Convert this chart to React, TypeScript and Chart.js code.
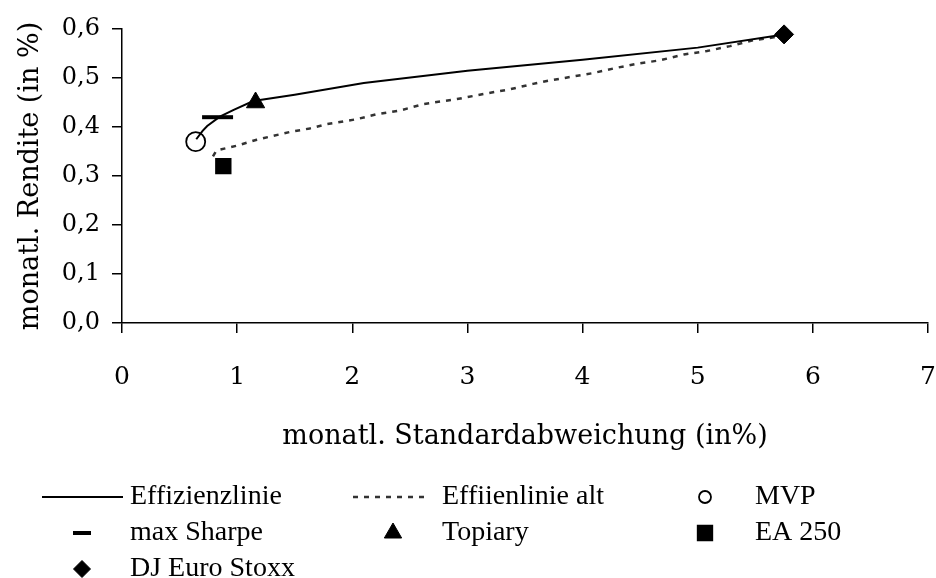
import React, { useEffect, useRef } from "react";
import { Chart, registerables } from "chart.js";
import { drawPoint } from "chart.js/helpers";

Chart.register(...registerables);

// ---- data ----
const effizienzX = [0.645, 0.7, 0.74, 0.85, 0.97, 1.14, 1.5, 2.1, 3.0, 4.0, 5.0, 5.75];
const effizienzY = [0.375, 0.392, 0.402, 0.421, 0.435, 0.453, 0.466, 0.49, 0.515, 0.537, 0.562, 0.589];

const altX = [0.79, 0.82, 1.0, 1.17, 1.46, 1.63, 1.78, 2.04, 2.21, 2.42, 2.62, 2.91, 3.2, 3.37, 3.57, 3.69, 3.89, 4.09, 4.3, 4.47, 4.67, 4.88, 5.08, 5.28, 5.48, 5.66, 5.75];
const altY = [0.34, 0.352, 0.362, 0.374, 0.39, 0.397, 0.406, 0.416, 0.426, 0.434, 0.447, 0.457, 0.47, 0.477, 0.488, 0.494, 0.502, 0.51, 0.521, 0.529, 0.536, 0.548, 0.555, 0.565, 0.577, 0.583, 0.589];

const portfolioLabels = ["MVP", "max Sharpe", "Topiary", "EA 250", "DJ Euro Stoxx"];
const portfolioX = [0.64, 0.83, 1.16, 0.88, 5.75];
const portfolioY = [0.37, 0.42, 0.45, 0.32, 0.589];

const lineLabels = ["Effizienzlinie", "Effiienlinie alt"];
const xTitle = "monatl. Standardabweichung (in%)";
const yTitle = "monatl. Rendite (in %)";

// ---- styles ----
const portfolioStyles = [
  { pointStyle: "circle", radius: 9.5, borderWidth: 1.8, bg: "rgba(0,0,0,0)", legendRadius: 6 },
  { pointStyle: "line", radius: 15.5, borderWidth: 4, bg: "#000", legendRadius: 9 },
  { pointStyle: "triangle", radius: 10.5, borderWidth: 1, bg: "#000", legendRadius: 10 },
  { pointStyle: "rect", radius: 10.5, borderWidth: 1.5, bg: "#000", legendRadius: 10.5 },
  { pointStyle: "rectRot", radius: 9.5, borderWidth: 1, bg: "#000", legendRadius: 8.5 },
];

const legendRowsY = [497, 533, 569];
const legendSymbolX = [82, 393, 705];
const legendLineStart = [42, 353, 0];
const legendLineEnd = [123, 430, 0];
const legendTextX = [130, 442, 755];

const legendPlugin = {
  id: "gridLegend",
  afterDraw(chart: any) {
    const ctx = chart.ctx;
    ctx.save();
    chart.data.datasets.forEach((ds: any, i: number) => {
      const row = Math.floor(i / 3);
      const col = i % 3;
      const y = legendRowsY[row];
      if (ds.showLine) {
        ctx.beginPath();
        ctx.strokeStyle = ds.borderColor;
        ctx.lineWidth = ds.borderWidth;
        ctx.setLineDash(ds.borderDash || []);
        ctx.moveTo(legendLineStart[col], y);
        ctx.lineTo(legendLineEnd[col], y);
        ctx.stroke();
        ctx.setLineDash([]);
      } else {
        ctx.fillStyle = ds.pointBackgroundColor;
        ctx.strokeStyle = ds.pointBorderColor;
        ctx.lineWidth = ds.pointBorderWidth;
        drawPoint(
          ctx,
          {
            pointStyle: ds.pointStyle,
            radius: ds.legendRadius,
            rotation: 0,
            borderWidth: ds.pointBorderWidth,
          },
          legendSymbolX[col],
          y
        );
      }
      ctx.fillStyle = "#000";
      ctx.font = '28px "Liberation Serif"';
      ctx.textAlign = "left";
      ctx.textBaseline = "middle";
      ctx.fillText(ds.label, legendTextX[col], y);
    });
    ctx.restore();
  },
};

export default function App() {
  const canvasRef = useRef<HTMLCanvasElement | null>(null);

  useEffect(() => {
    if (!canvasRef.current) return;
    const datasets: any[] = [
      {
        label: lineLabels[0],
        data: effizienzX.map((x, i) => ({ x, y: effizienzY[i] })),
        showLine: true,
        borderColor: "#000",
        borderWidth: 2,
        pointRadius: 0,
        tension: 0,
        clip: false,
        order: 2,
      },
      {
        label: lineLabels[1],
        data: altX.map((x, i) => ({ x, y: altY[i] })),
        showLine: true,
        borderColor: "#333",
        borderWidth: 2.5,
        borderDash: [5, 6],
        pointRadius: 0,
        tension: 0,
        clip: false,
        order: 3,
      },
    ];
    portfolioLabels.forEach((label, i) => {
      const st = portfolioStyles[i];
      datasets.push({
        label,
        data: [{ x: portfolioX[i], y: portfolioY[i] }],
        showLine: false,
        pointStyle: st.pointStyle,
        pointRadius: st.radius,
        pointBorderWidth: st.borderWidth,
        pointBackgroundColor: st.bg,
        pointBorderColor: "#000",
        legendRadius: st.legendRadius,
        clip: false,
        order: 1,
      });
    });

    const chart = new Chart(canvasRef.current, {
      type: "scatter",
      data: { datasets },
      plugins: [legendPlugin],
      options: {
        animation: false,
        responsive: true,
        maintainAspectRatio: false,
        layout: { autoPadding: false, padding: { left: 0, right: 8, top: 29, bottom: 118 } },
        plugins: {
          legend: { display: false },
          tooltip: { enabled: false },
        },
        scales: {
          x: {
            type: "linear",
            min: 0,
            max: 7,
            ticks: {
              stepSize: 1,
              color: "#000",
              padding: 29,
              font: { family: '"DejaVu Serif"', size: 25 },
            },
            grid: {
              drawOnChartArea: false,
              drawTicks: true,
              tickLength: 10,
              color: "#000",
              lineWidth: 1.5,
            },
            border: { display: true, color: "#000", width: 1.5 },
            title: {
              display: true,
              text: xTitle,
              color: "#000",
              padding: { top: 0, bottom: 7 },
              font: { family: '"DejaVu Serif"', size: 27 },
            },
            afterFit: (scale: any) => {
              scale.height = 137;
              scale.paddingLeft = 0;
              scale.paddingRight = 0;
            },
          },
          y: {
            type: "linear",
            min: 0,
            max: 0.6,
            ticks: {
              stepSize: 0.1,
              color: "#000",
              padding: 12,
              font: { family: '"DejaVu Serif"', size: 24 },
              callback: (v: any) => Number(v).toFixed(1).replace(".", ","),
            },
            grid: {
              drawOnChartArea: false,
              drawTicks: true,
              tickLength: 10,
              color: "#000",
              lineWidth: 1.5,
            },
            border: { display: true, color: "#000", width: 1.5 },
            title: {
              display: true,
              text: yTitle,
              color: "#000",
              padding: { top: 15, bottom: 0 },
              font: { family: '"DejaVu Serif"', size: 27 },
            },
            afterFit: (scale: any) => {
              scale.width = 122;
              scale.paddingTop = 0;
              scale.paddingBottom = 0;
            },
          },
        },
      } as any,
    });
    return () => chart.destroy();
  }, []);

  return (
    <div style={{ position: "fixed", left: 0, top: 0, width: 936, height: 578, background: "#fff" }}>
      <canvas ref={canvasRef} />
    </div>
  );
}
